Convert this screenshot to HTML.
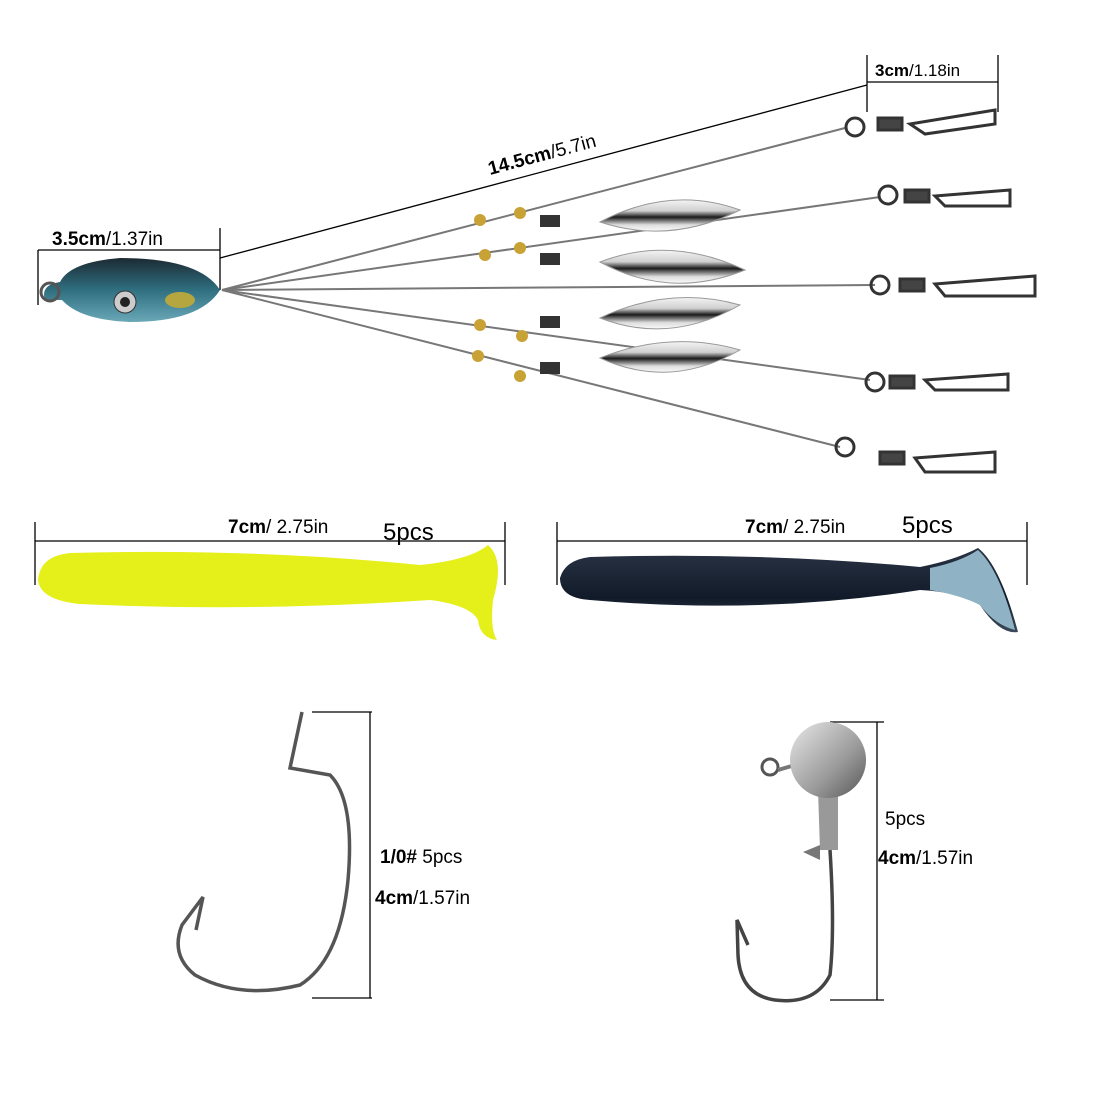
<!DOCTYPE html>
<html><head><meta charset="utf-8"><style>
html,body{margin:0;padding:0;background:#fff;}
svg{display:block;font-family:"Liberation Sans",sans-serif;}
</style></head><body>
<svg width="1100" height="1100" viewBox="0 0 1100 1100" xmlns="http://www.w3.org/2000/svg">
<defs>
<linearGradient id="blade" x1="0" y1="0" x2="0" y2="1">
<stop offset="0" stop-color="#f4f4f4"/><stop offset="0.35" stop-color="#cfcfcf"/><stop offset="0.55" stop-color="#1a1a1a"/><stop offset="0.8" stop-color="#ddd"/><stop offset="1" stop-color="#fafafa"/></linearGradient>
<linearGradient id="head" x1="0" y1="0" x2="0" y2="1">
<stop offset="0" stop-color="#1c2a33"/><stop offset="0.5" stop-color="#2f6f80"/><stop offset="1" stop-color="#6aa8b8"/></linearGradient>
<linearGradient id="ball" x1="0" y1="0" x2="1" y2="1">
<stop offset="0" stop-color="#e8e8e8"/><stop offset="0.6" stop-color="#9a9a9a"/><stop offset="1" stop-color="#555"/></linearGradient>
<linearGradient id="dark" x1="0" y1="0" x2="0" y2="1">
<stop offset="0" stop-color="#2a3445"/><stop offset="0.6" stop-color="#111a28"/><stop offset="1" stop-color="#3a4a5a"/></linearGradient>
</defs>
<g stroke="#000" stroke-width="1.3">
<line x1="867" y1="55" x2="867" y2="112"/><line x1="998" y1="55" x2="998" y2="112"/><line x1="867" y1="82" x2="998" y2="82"/>
<line x1="220" y1="258" x2="867" y2="85"/>
<line x1="38" y1="250" x2="38" y2="305"/><line x1="220" y1="228" x2="220" y2="290"/><line x1="38" y1="250" x2="220" y2="250"/>
<line x1="35" y1="541" x2="505" y2="541"/><line x1="35" y1="522" x2="35" y2="585"/><line x1="505" y1="522" x2="505" y2="585"/>
<line x1="557" y1="541" x2="1027" y2="541"/><line x1="557" y1="522" x2="557" y2="585"/><line x1="1027" y1="522" x2="1027" y2="585"/>
<line x1="370" y1="712" x2="370" y2="998"/><line x1="312" y1="712" x2="372" y2="712"/><line x1="312" y1="998" x2="372" y2="998"/>
<line x1="877" y1="722" x2="877" y2="1000"/><line x1="830" y1="722" x2="884" y2="722"/><line x1="830" y1="1000" x2="884" y2="1000"/>
</g>
<text x="875" y="76" font-size="17"><tspan font-weight="bold">3cm</tspan>/1.18in</text>
<text transform="translate(490,175) rotate(-15)" font-size="19"><tspan font-weight="bold">14.5cm</tspan>/5.7in</text>
<text x="52" y="245" font-size="19"><tspan font-weight="bold">3.5cm</tspan>/1.37in</text>
<g stroke="#777" stroke-width="2" fill="none">
<line x1="222" y1="290" x2="845" y2="128"/>
<line x1="222" y1="290" x2="880" y2="197"/>
<line x1="222" y1="290" x2="875" y2="285"/>
<line x1="222" y1="290" x2="870" y2="380"/>
<line x1="222" y1="290" x2="840" y2="447"/>
</g>
<g fill="none" stroke="#333" stroke-width="3">
<circle cx="855" cy="127" r="9"/><rect x="878" y="118" width="24" height="12" fill="#444"/><path d="M910 124 L995 110 L995 124 L925 134 Z"/>
<circle cx="888" cy="195" r="9"/><rect x="905" y="190" width="24" height="12" fill="#444"/><path d="M935 196 L1010 190 L1010 206 L945 206 Z"/>
<circle cx="880" cy="285" r="9"/><rect x="900" y="279" width="24" height="12" fill="#444"/><path d="M935 284 L1035 276 L1035 296 L945 296 Z"/>
<circle cx="875" cy="382" r="9"/><rect x="890" y="376" width="24" height="12" fill="#444"/><path d="M925 380 L1008 374 L1008 390 L935 390 Z"/>
<circle cx="845" cy="447" r="9"/><rect x="880" y="452" width="24" height="12" fill="#444"/><path d="M915 458 L995 452 L995 472 L925 472 Z"/>
</g>
<g stroke="#999" stroke-width="1">
<path d="M600 222 Q670 185 740 210 Q670 245 600 222 Z" fill="url(#blade)"/>
<path d="M600 262 Q670 235 745 270 Q670 300 600 262 Z" fill="url(#blade)"/>
<path d="M600 318 Q670 285 740 305 Q670 345 600 318 Z" fill="url(#blade)"/>
<path d="M600 358 Q670 330 740 350 Q670 390 600 358 Z" fill="url(#blade)"/>
</g>
<g fill="#c9a236"><circle cx="480" cy="220" r="6"/><circle cx="520" cy="213" r="6"/><circle cx="485" cy="255" r="6"/><circle cx="520" cy="248" r="6"/><circle cx="480" cy="325" r="6"/><circle cx="522" cy="336" r="6"/><circle cx="478" cy="356" r="6"/><circle cx="520" cy="376" r="6"/></g>
<g fill="#333"><rect x="540" y="215" width="20" height="12"/><rect x="540" y="253" width="20" height="12"/><rect x="540" y="316" width="20" height="12"/><rect x="540" y="362" width="20" height="12"/></g>
<path d="M45 300 Q40 285 60 282 Q70 262 120 258 Q200 258 220 290 Q200 322 130 322 Q80 320 62 300 Z" fill="url(#head)"/>
<circle cx="50" cy="292" r="9" fill="none" stroke="#555" stroke-width="3"/>
<circle cx="125" cy="302" r="11" fill="#ccc" stroke="#333"/><circle cx="125" cy="302" r="5" fill="#222"/>
<ellipse cx="180" cy="300" rx="15" ry="8" fill="#b5a640"/>
<text x="228" y="533" font-size="19"><tspan font-weight="bold">7cm</tspan>/ 2.75in</text><text x="383" y="540" font-size="24">5pcs</text>
<text x="745" y="533" font-size="19"><tspan font-weight="bold">7cm</tspan>/ 2.75in</text><text x="902" y="533" font-size="24">5pcs</text>
<path d="M38 580 Q40 556 70 553 Q250 548 420 565 Q470 560 488 545 Q505 560 493 600 Q490 630 497 640 Q480 638 478 620 Q470 605 430 600 Q250 612 80 604 Q40 600 38 580 Z" fill="#e5ef1a"/>
<path d="M560 578 Q565 560 590 557 Q760 552 920 567 Q955 560 978 548 Q1000 565 1018 632 Q1000 635 980 605 Q960 592 920 590 Q760 615 590 600 Q560 598 560 578 Z" fill="url(#dark)"/>
<path d="M930 568 Q960 562 978 550 Q1000 570 1015 630 Q995 625 980 605 Q960 595 930 590 Z" fill="#8fb3c4"/>
<path d="M302 712 L290 768 L330 775 Q355 800 348 880 Q340 960 300 985 Q240 1000 195 975 Q170 955 182 925 L203 897 L196 930" fill="none" stroke="#555" stroke-width="3.5"/>
<text x="380" y="863" font-size="19"><tspan font-weight="bold">1/0#</tspan> 5pcs</text>
<text x="375" y="904" font-size="19"><tspan font-weight="bold">4cm</tspan>/1.57in</text>
<circle cx="770" cy="767" r="8" fill="none" stroke="#555" stroke-width="3"/>
<path d="M778 770 L795 765" stroke="#777" stroke-width="4"/>
<path d="M818 790 L820 850 L838 850 L838 790 Z" fill="#999"/>
<circle cx="828" cy="760" r="38" fill="url(#ball)"/>
<path d="M830 850 Q835 930 830 975 Q815 1005 775 1000 Q740 995 738 955 L737 920 L748 945" fill="none" stroke="#444" stroke-width="3.5"/>
<path d="M803 852 L820 860 L820 845 Z" fill="#777"/>
<text x="885" y="825" font-size="19">5pcs</text>
<text x="878" y="864" font-size="19"><tspan font-weight="bold">4cm</tspan>/1.57in</text>
</svg>
</body></html>
